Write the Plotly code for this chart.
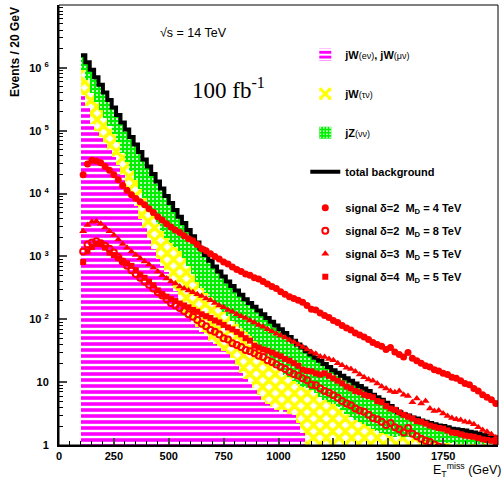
import plotly.graph_objects as go

# bin centres (20 GeV bins from 100 to 2000 GeV)
bin_centers = list(range(110, 2000, 20))

# cumulative background levels (events / 20 GeV)
total_bkg = [1.58e6, 1.23e6, 9.33e5, 7.08e5, 5.37e5, 4.07e5, 3.09e5, 2.34e5, 1.78e5, 1.35e5,
             1.05e5, 7.94e4, 6.03e4, 4.57e4, 3.47e4, 2.69e4, 2.04e4, 1.55e4, 1.20e4, 9120,
             7080, 5500, 4270, 3390, 2630, 2090, 1660, 1320, 1050, 851,
             692, 575, 479, 398, 339, 288, 245, 209, 182, 158,
             138, 120, 105, 91.2, 79.4, 69.2, 60.3, 52.5, 45.7, 39.8,
             35.5, 30.9, 27.5, 24.5, 21.9, 19.5, 17.4, 15.5, 14.1, 12.6,
             11.5, 10.5, 9.55, 8.71, 7.94, 7.24, 6.31, 5.75, 5.25, 4.68,
             4.17, 3.72, 3.31, 3.09, 2.95, 2.75, 2.63, 2.45, 2.34, 2.24,
             2.14, 2.04, 2.00, 1.91, 1.82, 1.78, 1.74, 1.70, 1.62, 1.58,
             1.51, 1.45, 1.41, 1.35, 1.32]
# jW(e nu)+jW(mu nu)+jW(tau nu)  (top of the yellow layer)
w_all = [9.33e5, 6.31e5, 3.98e5, 2.82e5, 2.14e5, 1.58e5, 1.20e5, 8.91e4, 6.61e4, 4.47e4,
         3.16e4, 2.29e4, 1.66e4, 1.20e4, 8510, 6310, 4470, 3310, 2510, 2000,
         1660, 1410, 1200, 955, 708, 525, 398, 316, 263, 224,
         191, 158, 132, 112, 95.5, 83.2, 72.4, 63.1, 55.0, 45.7,
         38.0, 31.6, 26.3, 22.4, 17.8, 14.8, 13.2, 12.0, 10.5, 9.33,
         8.51, 7.94, 7.41, 6.61, 5.75, 5.25, 4.79, 4.47, 3.98, 3.55,
         3.16, 2.82, 2.51, 2.29, 2.19, 2.00, 1.82, 1.66, 1.55, 1.48,
         1.38, 1.35, 1.38, 1.32, 1.35, 1.32, 1.26, 1.20, 1.15, 1.12,
         1.10, 1.10, 1.07, 1.07, 1.07, 1.05, 1.05, 1.05, 1.04, 1.05,
         1.04, 1.03, 1.04, 1.03, 1.02]
# jW(e nu)+jW(mu nu)  (magenta layer)
w_lep = [3.72e5, 2.51e5, 1.26e5, 1.0e5, 7.94e4, 6.31e4, 5.01e4, 3.80e4, 2.82e4, 2.0e4,
         1.29e4, 8910, 6310, 3980, 2820, 2000, 1320, 912, 708, 562,
         398, 282, 158, 126, 110, 89.1, 75.9, 63.1, 53.7, 45.7,
         39.8, 35.5, 31.6, 28.2, 24.0, 17.8, 14.1, 11.2, 9.55, 7.94,
         6.31, 5.25, 4.57, 3.98, 3.55, 3.31, 3.55, 3.16, 3.02, 2.24,
         1.58, 0, 0, 0, 0, 0, 0, 0, 0, 0,
         0, 0, 0, 0, 0, 0, 0, 0, 0, 0,
         0, 0, 0, 0, 0, 0, 0, 0, 0, 0,
         0, 0, 0, 0, 0, 0, 0, 0, 0, 0,
         0, 0, 0, 0, 0]

sig_d2_m4 = [2.0e4, 2.95e4, 3.39e4, 3.31e4, 3.09e4, 2.69e4, 2.34e4, 2.0e4, 1.66e4, 1.35e4,
             1.12e4, 9550, 8320, 7410, 6610, 5750, 5010, 4270, 3800, 3310,
             2950, 2630, 2400, 2140, 1910, 1780, 1550, 1320, 1230, 1100,
             1000, 912, 813, 759, 676, 617, 575, 525, 501, 457,
             437, 398, 363, 331, 309, 275, 251, 229, 214, 200,
             186, 166, 145, 141, 126, 115, 107, 95.5, 89.1, 79.4,
             72.4, 67.6, 60.3, 56.2, 52.5, 47.9, 42.7, 39.8, 37.2, 33.1,
             35.5, 30.2, 27.5, 25.1, 29.5, 24.0, 21.9, 20.0, 18.2, 17.4,
             15.8, 15.1, 13.8, 13.2, 12.0, 11.5, 10.5, 9.55, 9.12, 7.94,
             7.24, 6.31, 5.75, 5.25, 4.57]
sig_d2_m8 = [1200, 1550, 1660, 1740, 1620, 1480, 1320, 1150, 977, 832,
             708, 603, 525, 457, 398, 355, 309, 269, 240, 209,
             182, 166, 151, 135, 120, 110, 97.7, 85.1, 77.6, 67.6,
             63.1, 57.5, 50.1, 47.9, 41.7, 38.9, 36.3, 32.4, 30.9, 28.8,
             26.3, 25.1, 22.4, 20.9, 19.1, 17.4, 16.2, 14.5, 13.5, 12.6,
             11.5, 10.7, 9.12, 8.91, 7.94, 7.24, 6.76, 6.17, 5.62, 5.01,
             4.57, 4.27, 3.80, 3.55, 3.39, 3.02, 2.69, 2.57, 2.34, 2.09,
             2.24, 1.91, 1.78, 1.58, 1.86, 1.51, 1.38, 1.26, 1.17, 1.12,
             1.02, 0.95, 0.91, 0.87, 0.83, 0.79, 0.76, 0.71, 0.68, 0.62,
             0.58, 0.52, 0.48, 0.44, 0.38]
sig_d3_m5 = [2510, 3160, 3550, 3630, 3310, 2880, 2510, 2190, 1860, 1580,
             1380, 1200, 1050, 933, 832, 741, 661, 575, 501, 447,
             398, 372, 331, 309, 288, 269, 251, 234, 214, 200,
             182, 166, 155, 141, 132, 120, 112, 105, 95.5, 89.1,
             81.3, 75.9, 69.2, 64.6, 58.9, 55.0, 51.3, 46.8, 43.7, 39.8,
             36.3, 33.1, 30.2, 28.2, 25.7, 25.1, 23.4, 22.4, 20.0, 18.6,
             17.0, 16.2, 14.8, 13.2, 12.0, 11.0, 10.5, 9.55, 8.51, 7.94,
             7.24, 6.92, 7.24, 6.31, 6.03, 4.79, 5.50, 4.57, 5.01, 3.80,
             3.47, 3.55, 3.16, 2.88, 2.69, 2.57, 2.51, 2.34, 2.29, 2.14,
             1.91, 1.74, 1.62, 1.48, 1.32]
sig_d4_m5 = [813, 1200, 1410, 1580, 1620, 1380, 1150, 1050, 933, 832,
             776, 708, 603, 513, 457, 398, 347, 288, 251, 229,
             209, 195, 178, 166, 155, 141, 132, 120, 112, 105,
             95.5, 89.1, 81.3, 74.1, 69.2, 63.1, 57.5, 50.1, 45.7, 38.0,
             35.5, 33.1, 31.6, 29.5, 27.5, 25.7, 23.4, 21.9, 20.0, 18.2,
             15.8, 15.1, 14.8, 13.8, 13.2, 13.8, 12.6, 11.5, 10.5, 9.55,
             8.51, 7.94, 7.24, 6.92, 6.31, 6.03, 5.75, 5.01, 4.79, 4.17,
             3.80, 3.63, 3.31, 3.02, 2.82, 2.63, 2.40, 2.34, 2.19, 2.04,
             1.95, 1.86, 1.82, 1.70, 1.58, 1.55, 1.48, 1.41, 1.38, 1.35,
             1.29, 1.23, 1.20, 1.17, 1.12]

y_tick_vals = [1, 10, 100, 1e3, 1e4, 1e5, 1e6]
y_tick_text = ["1", "10", "10 <sup>2</sup>", "10 <sup>3</sup>", "10 <sup>4</sup>",
               "10 <sup>5</sup>", "10 <sup>6</sup>"]
x_tick_vals = [0, 250, 500, 750, 1000, 1250, 1500, 1750, 2000]

BIN_W = 20
RED = "#ff0000"
FONT = "Liberation Sans"
SMALL = '<span style="font-size:9px;font-weight:normal">'

fig = go.Figure()

# background layers, drawn as overlaid cumulative bars
fig.add_trace(go.Bar(
    x=bin_centers, y=total_bkg, width=BIN_W, name="jZ" + SMALL + "(νν)</span>",
    opacity=1,
    marker=dict(color="#00ff00", line=dict(width=0),
                pattern=dict(shape=".", fgcolor="#ffffff", bgcolor="#00f000",
                             size=4, solidity=0.2, fgopacity=1)),
    legend="legend", legendgroup="g3", legendrank=3))
fig.add_trace(go.Bar(
    x=bin_centers, y=w_all, width=BIN_W, name="jW" + SMALL + "(τν)</span>",
    opacity=1,
    marker=dict(color="#ffff00", line=dict(width=0),
                pattern=dict(shape="x", fgcolor="#ffff00", bgcolor="#ffffff",
                             size=9, solidity=0.65, fgopacity=1)),
    legend="legend", legendgroup="g2", legendrank=2))
fig.add_trace(go.Bar(
    x=bin_centers, y=w_lep, width=BIN_W,
    name="jW" + SMALL + "(eν)</span>, jW" + SMALL + "(μν)</span>",
    opacity=1,
    marker=dict(color="#ff00ff", line=dict(width=0),
                pattern=dict(shape="-", fgcolor="#ff00ff", bgcolor="#ffffff",
                             size=6, solidity=0.6, fgopacity=1)),
    legend="legend", legendgroup="g1", legendrank=1))

# total background step line
edges = [c - BIN_W / 2 for c in bin_centers] + [bin_centers[-1] + BIN_W / 2]
fig.add_trace(go.Scatter(
    x=edges, y=total_bkg + [total_bkg[-1]], mode="lines", line_shape="hv",
    line=dict(color="black", width=4), name="total background",
    legend="legend", legendgroup="g4", legendrank=4))

# signals
sig_specs = [
    (sig_d2_m4, "signal δ=2  M<sub>D</sub> = 4 TeV", dict(symbol="circle", size=7, color=RED)),
    (sig_d2_m8, "signal δ=2  M<sub>D</sub> = 8 TeV",
     dict(symbol="circle-open", size=6, color=RED, line=dict(width=2, color=RED))),
    (sig_d3_m5, "signal δ=3  M<sub>D</sub> = 5 TeV", dict(symbol="triangle-up", size=7, color=RED)),
    (sig_d4_m5, "signal δ=4  M<sub>D</sub> = 5 TeV", dict(symbol="square", size=6, color=RED)),
]
for i, (vals, label, mk) in enumerate(sig_specs):
    fig.add_trace(go.Scatter(x=bin_centers, y=vals, mode="markers", marker=mk,
                             name=label, legend="legend2", legendgroup=f"s{i}",
                             legendrank=i + 1))

fig.update_layout(
    width=504, height=481,
    margin=dict(l=59, r=6, t=5, b=36),
    paper_bgcolor="white", plot_bgcolor="white",
    barmode="overlay", bargap=0,
    font=dict(family=FONT, size=11, color="black"),
    legend=dict(x=0.561, y=0.92, xanchor="left", yanchor="top",
                traceorder="grouped", tracegroupgap=20,
                font=dict(family=FONT, size=11, weight="bold"),
                bgcolor="rgba(0,0,0,0)", itemwidth=30),
    legend2=dict(x=0.561, y=0.572, xanchor="left", yanchor="top",
                 traceorder="grouped", tracegroupgap=4,
                 font=dict(family=FONT, size=11, weight="bold"),
                 bgcolor="rgba(0,0,0,0)", itemwidth=30),
    xaxis=dict(range=[0, 2000], tickmode="array", tickvals=x_tick_vals,
               ticks="inside", ticklen=7, tickwidth=2, showgrid=False, zeroline=False,
               showline=True, linewidth=2, linecolor="black",
               tickfont=dict(family=FONT, size=11, weight="bold"),
               minor=dict(dtick=50, ticks="inside", ticklen=4, tickwidth=1,
                          tickcolor="black", showgrid=False)),
    yaxis=dict(type="log", range=[0, 7], tickmode="array", tickvals=y_tick_vals,
               ticktext=y_tick_text, ticks="inside", ticklen=8, tickwidth=2,
               ticklabelstandoff=6,
               showgrid=False, zeroline=False,
               showline=True, linewidth=2, linecolor="black",
               tickfont=dict(family=FONT, size=11, weight="bold"),
               minor=dict(tickvals=[m * 10 ** k for k in range(7) for m in range(2, 10)],
                          ticks="inside", ticklen=4, tickwidth=1,
                          tickcolor="black", showgrid=False)),
    shapes=[dict(type="rect", xref="paper", yref="paper", x0=0, y0=0, x1=1, y1=1,
                 line=dict(color="black", width=1), layer="above")],
    annotations=[
        dict(text="Events / 20 GeV", xref="paper", yref="paper", x=-0.1, y=1.0,
             xanchor="center", yanchor="top", textangle=-90, showarrow=False,
             font=dict(family=FONT, size=12, weight="bold")),
        dict(text="E<sub>T</sub><sup>miss</sup> (GeV)", xref="paper", yref="paper",
             x=1.0, y=-0.057, xanchor="right", yanchor="middle", xshift=6, showarrow=False,
             font=dict(family=FONT, size=12.5)),
        dict(text="√s = 14 TeV", xref="paper", yref="paper", x=0.225, y=0.936,
             xanchor="left", yanchor="middle", showarrow=False,
             font=dict(family=FONT, size=12.5)),
        dict(text="100 fb<sup>-1</sup>", xref="paper", yref="paper", x=0.298, y=0.81,
             xanchor="left", yanchor="middle", showarrow=False,
             font=dict(family="Liberation Serif", size=23)),
    ],
)

fig.write_html("out.html")
